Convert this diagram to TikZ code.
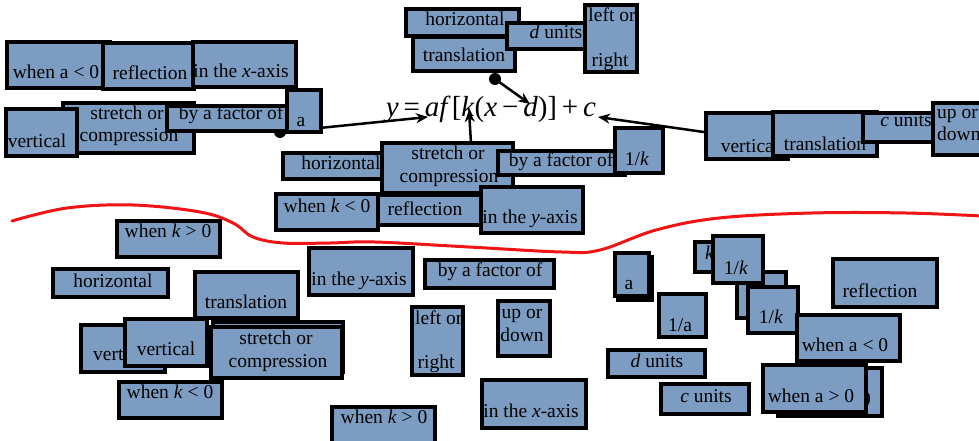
\documentclass[tikz,border=0pt]{standalone}
\usepackage{fontspec}
\setmainfont{Liberation Serif}
\usetikzlibrary{arrows.meta}
\definecolor{boxfill}{RGB}{124,156,194}
\definecolor{curvered}{RGB}{240,20,20}
\tikzset{
  bx/.style={draw=black, fill=boxfill, line width=3.5pt},
  lbl/.style={anchor=base, inner sep=0pt, font=\fontsize{19.5}{21}\selectfont},
  lblw/.style={lbl, anchor=base west},
  conn/.style={line width=2.5pt, -{Stealth[length=12pt,width=10pt]}},
  dotc/.style={fill=black, circle, minimum size=12pt, inner sep=0pt},
}
\begin{document}
\begin{tikzpicture}[x=1pt,y=-1pt]
\useasboundingbox (0,0) rectangle (979,441);

% ---------- top-left group ----------
\node[dotc] (adot) at (280,132) {};
\coordinate (aend) at (428,117);
\draw[conn] (adot.center) -- (aend);

\draw[bx] (7,42) rectangle (110,88);   \node[lbl] (t1) at (56,79) {when a < 0};
\draw[bx] (103,43) rectangle (194,89); \node[lbl] (t2) at (150,80) {reflection};
\draw[bx] (193,42) rectangle (296,87); \node[lbl] (t3) at (241,78) {in the \textit{x}-axis};
\draw[bx] (63,103) rectangle (194,153);
\node[lbl] (t4) at (127,120) {stretch or};
\node[lbl] (t5) at (129,142) {compression};
\draw[bx] (6,109) rectangle (77,156);  \node[lbl] (t6) at (37,147) {vertical};
\draw[bx] (167,106) rectangle (287,131); \node[lbl] (t7) at (231,120) {by a factor of};
\draw[bx] (287,90) rectangle (321,132); \node[lbl] (t8) at (301,127) {a};

% ---------- top-middle group ----------
\draw[bx] (406,9) rectangle (519,36);  \node[lbl] (t9) at (465,26) {horizontal};
\draw[bx] (413,37) rectangle (515,71); \node[lbl] (t10) at (464,62) {translation};
\draw[bx] (507,23) rectangle (586,49); \node[lbl] (t11) at (556,39) {\textit{d} units};
\draw[bx] (585,5) rectangle (637,72);
\node[lbl] (t12) at (612,22) {left or};
\node[lbl] (t13) at (610,67) {right};

% ---------- equation ----------
\node[anchor=base, inner sep=0pt, font=\fontsize{29}{32}\selectfont] (eq) at (491,117)
  {\textit{y}\,=\,\textit{af}\hspace{1pt}[\textit{k}(\textit{x}\,−\,\textit{d})]\,+\,\textit{c}};
\node[dotc] (ddot) at (495,79) {};
\coordinate (dend) at (530,104);
\draw[conn] (ddot.center) -- (dend);

% ---------- middle group ----------
\node[dotc] (kdot) at (472,160) {};
\coordinate (kend) at (469,110);
\draw[conn] (kdot.center) -- (kend);

\draw[bx] (283,153) rectangle (383,179); \node[lbl] (t14) at (341,169) {horizontal};
\draw[bx] (382,143) rectangle (513,193);
\node[lbl] (t15) at (448,159) {stretch or};
\node[lbl] (t16) at (449,182) {compression};
\draw[bx] (498,151) rectangle (625,175); \node[lbl] (t17) at (561,166) {by a factor of};
\draw[bx] (615,128) rectangle (663,173); \node[lbl] (t18) at (637,165) {1/\textit{k}};
\draw[bx] (276,194) rectangle (378,230); \node[lbl] (t19) at (327,212) {when \textit{k} < 0};
\draw[bx] (378,195) rectangle (483,225); \node[lbl] (t20) at (425,215) {reflection};
\draw[bx] (481,187) rectangle (583,233); \node[lbl] (t21) at (530,223) {in the \textit{y}-axis};

% ---------- top-right group ----------
\node[dotc] (cdot) at (725,135) {};
\coordinate (cend) at (598,117);
\draw[conn] (cdot.center) -- (cend);

\draw[bx] (706,113) rectangle (788,159); \node[lbl] (t22) at (750,152) {vertical};
\draw[bx] (773,112) rectangle (877,156); \node[lbl] (t23) at (825,150) {translation};
\draw[bx] (863,113) rectangle (935,142); \node[lbl] (t24) at (906,126) {\textit{c} units};
\draw[bx] (933,103) rectangle (990,155);
\node[lblw] (t25) at (937,118) {up or};
\node[lblw] (t26) at (937,140) {down};

% ---------- bottom-left group ----------
\draw[bx] (117,221) rectangle (220,257); \node[lbl] (t27) at (168,237) {when \textit{k} > 0};
\draw[bx] (53,269) rectangle (168,297);  \node[lbl] (t28) at (113,287) {horizontal};
\draw[bx] (195,272) rectangle (298,318); \node[lbl] (t29) at (246,308) {translation};
\draw[bx] (81,325) rectangle (165,372);  \node[lblw] (t30) at (93,360) {vertical};
\draw[bx] (125,319) rectangle (207,366); \node[lbl] (t31) at (166,355) {vertical};
\draw[bx] (213,322) rectangle (343,372);
\draw[bx] (211,327) rectangle (342,378);
\node[lbl] (t32) at (276,344) {stretch or};
\node[lbl] (t33) at (278,367) {compression};
\draw[bx] (119,382) rectangle (222,418); \node[lbl] (t34) at (170,398) {when \textit{k} < 0};

% ---------- bottom-middle group ----------
\draw[bx] (309,248) rectangle (413,295); \node[lbl] (t35) at (359,285) {in the \textit{y}-axis};
\draw[bx] (425,260) rectangle (554,288); \node[lbl] (t36) at (490,276) {by a factor of};
\draw[bx] (412,307) rectangle (463,375);
\node[lblw] (t37) at (415,324) {left or};
\node[lbl] (t38) at (436,368) {right};
\draw[bx] (498,301) rectangle (550,356);
\node[lbl] (t39) at (522,318) {up or};
\node[lbl] (t40) at (522,341) {down};
\draw[bx] (482,380) rectangle (586,428); \node[lbl] (t41) at (531,417) {in the \textit{x}-axis};
\draw[bx] (332,407) rectangle (435,450); \node[lbl] (t42) at (384,423) {when \textit{k} > 0};

% ---------- bottom-right group ----------
\draw[bx] (618,257) rectangle (652,300);
\draw[bx] (615,253) rectangle (649,296); \node[lbl] (t43) at (629,289) {a};
\draw[bx] (659,294) rectangle (706,337); \node[lbl] (t44) at (680,331) {1/a};
\draw[bx] (608,350) rectangle (705,377); \node[lbl] (t45) at (657,367) {\textit{d} units};
\draw[bx] (661,384) rectangle (749,414); \node[lbl] (t46) at (706,402) {\textit{c} units};
\draw[bx] (695,242) rectangle (722,272); \node[lblw] (t47) at (705,259) {\textit{k}};
\draw[bx] (737,272) rectangle (786,318);
\draw[bx] (713,236) rectangle (763,283); \node[lbl] (t48) at (736,274) {1/\textit{k}};
\draw[bx] (748,287) rectangle (798,333); \node[lbl] (t49) at (771,323) {1/\textit{k}};
\draw[bx] (833,259) rectangle (937,307); \node[lbl] (t50) at (880,297) {reflection};
\draw[bx] (797,315) rectangle (900,361); \node[lbl] (t51) at (845,351) {when a < 0};
\draw[bx] (778,368) rectangle (882,416); \node[lbl, anchor=base east] (t52) at (871,405) {when a < 0};
\draw[bx] (763,365) rectangle (866,412); \node[lbl] (t53) at (811,402) {when a > 0};

% ---------- red curve ----------
\draw[curvered, line width=3pt, line cap=round] plot[smooth, tension=0.6] coordinates {
  (12,221) (67,208) (133,205) (200,212) (233,223) (253,237) (283,243)
  (330,243) (375,242) (469,247) (562,252) (600,250) (656,230) (719,218)
  (812,213) (906,213) (982,216)};
\end{tikzpicture}
\end{document}
